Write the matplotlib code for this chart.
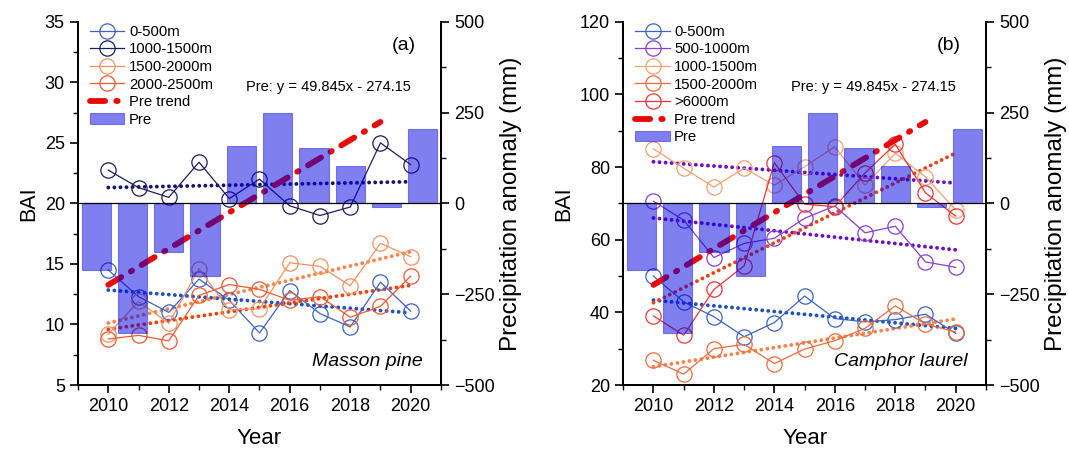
import matplotlib.pyplot as plt
import numpy as np
from matplotlib.ticker import MultipleLocator

plt.rcParams['font.family'] = ['Liberation Sans', 'DejaVu Sans']

years = np.arange(2010, 2021)

# 降水距平 (mm)
pre = [-184, -356, -134, -199, 158, 249, 153, 104, -9, 204]
pre_slope = 49.845
pre_icpt = -274.15
pre_label = 'Pre: y = 49.845x - 274.15'

# (a) Masson pine
a_labels = ['0-500m', '1000-1500m', '1500-2000m', '2000-2500m']
a_0_500 = [14.5, 12.3, 11.0, 13.75, 12.0, 9.3, 12.8, 10.9, 9.8, 13.5, 11.1]
a_1000_1500 = [22.75, 21.3, 20.5, 23.4, 20.4, 22.0, 19.8, 19.0, 19.7, 25.0, 23.2]
a_1500_2000 = [9.2, 11.9, 10.1, 14.6, 11.2, 11.3, 15.1, 14.8, 13.2, 16.7, 15.6]
a_2000_2500 = [8.8, 9.1, 8.65, 12.4, 13.3, 12.9, 12.0, 12.3, 10.6, 11.5, 14.0]

# (b) Camphor laurel
b_labels = ['0-500m', '500-1000m', '1000-1500m', '1500-2000m', '>6000m']
b_0_500 = [50.0, 42.9, 38.8, 33.3, 37.2, 44.5, 38.3, 37.4, 38.0, 39.5, 34.2]
b_500_1000 = [70.6, 65.4, 55.1, 59.0, 60.4, 65.9, 69.3, 61.9, 63.7, 53.9, 52.4]
b_1000_1500 = [85.0, 79.7, 74.5, 79.7, 75.0, 80.1, 85.6, 75.0, 83.8, 77.3, 68.2]
b_1500_2000 = [26.8, 23.0, 30.0, 31.2, 25.9, 29.9, 32.2, 35.6, 41.8, 36.8, 34.6]
b_6000 = [39.0, 33.7, 46.3, 52.8, 81.2, 69.8, 69.1, 78.4, 86.3, 72.9, 66.5]

a_colors = ['#3b63c6', '#1d1d5e', '#f6915e', '#f25a2e']
a_trend_colors = ['#2050c0', '#141470', '#f7854a', '#f2400c']
b_colors = ['#3b63c6', '#8a3fd8', '#f7a070', '#f26a3a', '#ee3535']
b_trend_colors = ['#2050c0', '#6a10c8', '#6a10c8', '#f7854a', '#f2400c']

bar_color = '#0000e0'
trend_red = '#e80a0a'


def draw_panel(ax, series, labels, colors, trend_colors, ylim, ymaj, tag, species):
    for vals, lab, c in zip(series, labels, colors):
        ax.plot(years, vals, '-o', color=c, lw=0.9, ms=11, mfc='none',
                mec=c, mew=0.9, label=lab, zorder=3)
    # 線性趨勢 (點線)
    for vals, tc in zip(series, trend_colors):
        k, b = np.polyfit(years, vals, 1)
        ax.plot(years, k * years + b, color=tc, lw=2.8,
                linestyle=(0, (0.01, 1.55)), dash_capstyle='round', zorder=2)

    ax.set_xlim(2009, 2021)
    ax.set_ylim(*ylim)
    ax.xaxis.set_major_locator(MultipleLocator(2))
    ax.xaxis.set_minor_locator(MultipleLocator(1))
    ax.yaxis.set_major_locator(MultipleLocator(ymaj))
    ax.yaxis.set_minor_locator(MultipleLocator(ymaj / 2))
    ax.set_xlabel('Year', fontsize=16, labelpad=9)
    ax.set_ylabel('BAI', fontsize=15.5, labelpad=4)
    ax.spines['top'].set_visible(False)
    for s in ax.spines.values():
        s.set_linewidth(1.3)

    ax2 = ax.twinx()
    n = len(pre)
    bar_x = 2009 + (np.arange(n) + 0.5) * 12 / n
    trend_x = years[:n]
    trend_y = pre_slope * np.arange(1, n + 1) + pre_icpt
    tl, = ax2.plot(trend_x, trend_y, color=trend_red, lw=4.2,
                   linestyle=(0, (2.6, 1.9, 0.25, 1.9)), dash_capstyle='round',
                   zorder=1, label='Pre trend')
    bars = ax2.bar(bar_x, pre, width=0.97, color=bar_color, alpha=0.5,
                   edgecolor='#2020d0', lw=0.8, zorder=2, label='Pre')
    ax2.axhline(0, color='black', lw=0.9, zorder=3)
    ax2.set_ylim(-500, 500)
    ax2.yaxis.set_major_locator(MultipleLocator(250))
    ax2.yaxis.set_minor_locator(MultipleLocator(125))
    ax2.set_ylabel('Precipitation anomaly (mm)', fontsize=17.5, labelpad=4)
    ax2.spines['top'].set_visible(False)
    for s in ax2.spines.values():
        s.set_linewidth(1.3)

    for a in (ax, ax2):
        a.tick_params(which='major', direction='out', length=6, width=1.2, labelsize=13)
        a.tick_params(which='minor', direction='out', length=3.5, width=1.0)

    handles, labs = ax.get_legend_handles_labels()
    handles += [tl, bars]
    labs += ['Pre trend', 'Pre']
    ax2.legend(handles, labs, loc='upper left', bbox_to_anchor=(0.005, 1.02),
               frameon=False, fontsize=10.7, labelspacing=0.24,
               handlelength=2.3, handletextpad=0.3, borderpad=0.2)

    ax2.text(0.93, 0.935, tag, transform=ax.transAxes, fontsize=14,
             ha='right', va='center')
    ax2.text(0.69, 0.82, pre_label,
             transform=ax.transAxes, fontsize=10.5, ha='center', va='center')
    ax2.text(0.95, 0.064, species, transform=ax.transAxes, fontsize=14,
             style='italic', ha='right', va='center')
    return ax2


fig = plt.figure(figsize=(10.69, 4.49), dpi=100)
ax_a = fig.add_axes([0.073, 0.1425, 0.3395, 0.809])
ax_b = fig.add_axes([0.583, 0.1425, 0.3393, 0.809])

draw_panel(ax_a, [a_0_500, a_1000_1500, a_1500_2000, a_2000_2500],
           a_labels, a_colors, a_trend_colors, (5, 35), 5, '(a)', 'Masson pine')
draw_panel(ax_b, [b_0_500, b_500_1000, b_1000_1500, b_1500_2000, b_6000],
           b_labels, b_colors, b_trend_colors, (20, 120), 20, '(b)', 'Camphor laurel')

fig.savefig('out.png', dpi=100)
